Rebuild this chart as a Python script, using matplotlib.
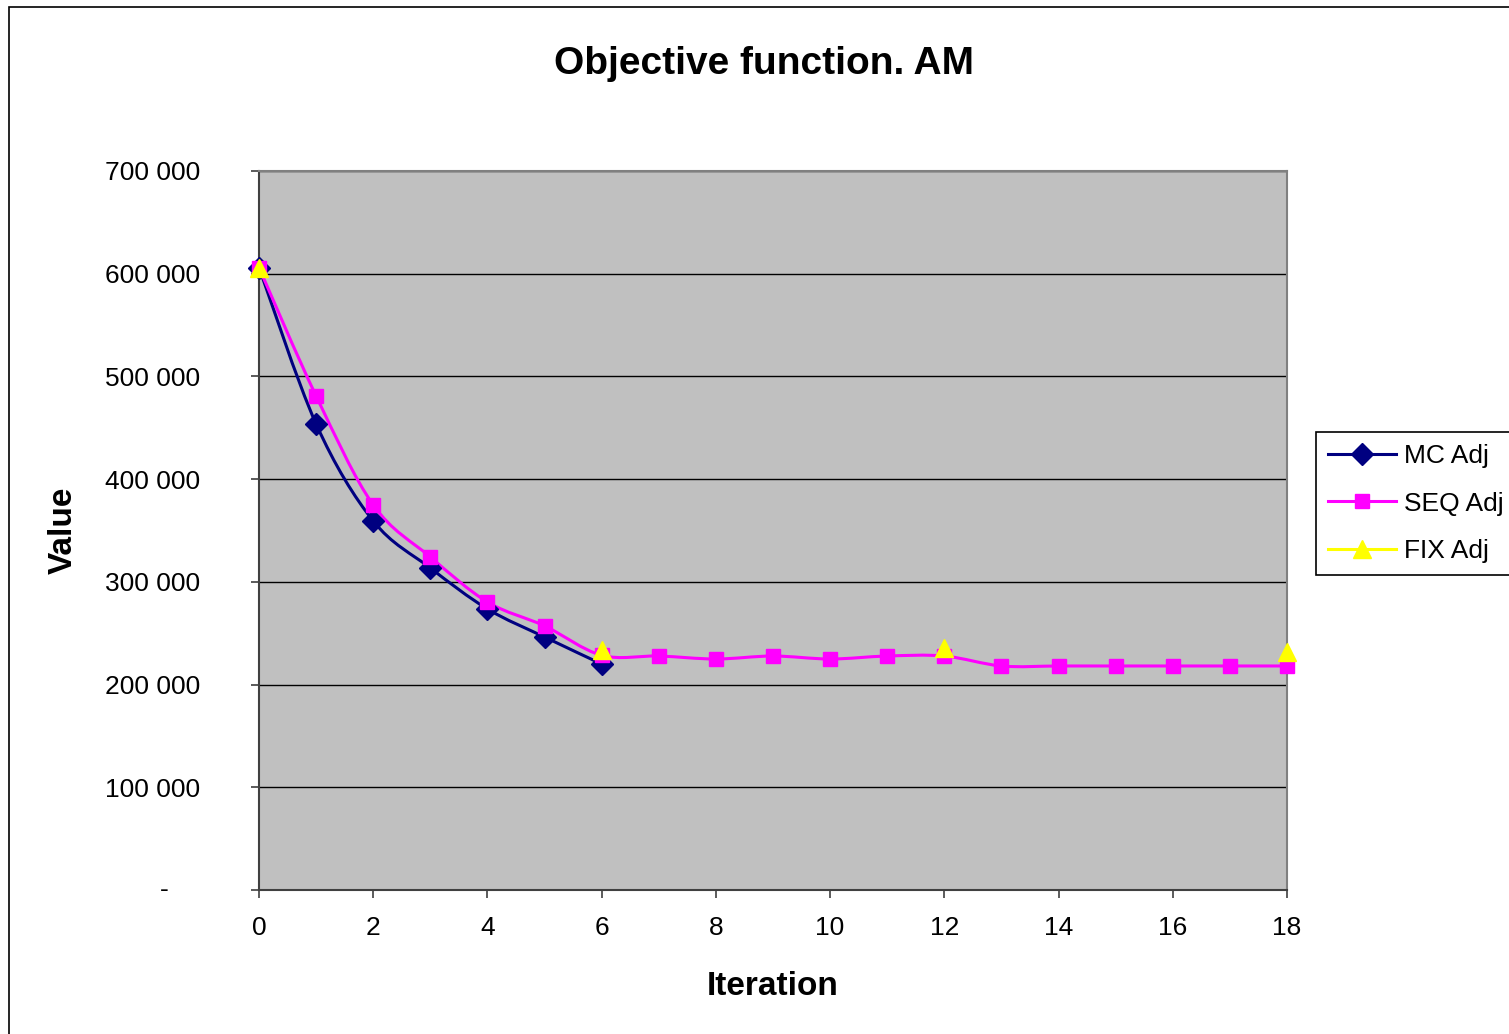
import numpy as np
import matplotlib
matplotlib.use("Agg")
from matplotlib import pyplot as plt
from matplotlib.path import Path
from matplotlib.patches import PathPatch, Rectangle
from matplotlib.lines import Line2D
from matplotlib.ticker import FuncFormatter, MultipleLocator

plt.rcParams["font.family"] = ["Liberation Sans", "DejaVu Sans"]

iterations = list(range(19))
mc_iter = [0, 1, 2, 3, 4, 5, 6]
mc_adj = [606000, 453700, 359300, 313500, 273600, 246300, 220000]
seq_adj = [606000, 481000, 374900, 324200, 280400, 257100, 228500, 227800, 224900,
           227800, 224900, 227800, 227800, 218100, 218100, 218100, 218100, 218100, 218100]
fix_iter = [0, 6, 12, 18]
fix_adj = [606000, 233700, 235600, 231700]

NAVY = "#000080"
MAGENTA = "#FF00FF"
YELLOW = "#FFFF00"


def smooth_path(xs, ys):
    # Catmull-Rom style cubic segments, like a spreadsheet "smoothed line"
    pts = np.column_stack([xs, ys]).astype(float)
    n = len(pts)
    verts = [pts[0]]
    codes = [Path.MOVETO]
    for i in range(n - 1):
        p0 = pts[i - 1] if i > 0 else pts[i]
        p1 = pts[i]
        p2 = pts[i + 1]
        p3 = pts[i + 2] if i + 2 < n else pts[i + 1]
        c1 = p1 + (p2 - p0) / 6.0
        c2 = p2 - (p3 - p1) / 6.0
        verts += [c1, c2, p2]
        codes += [Path.CURVE4] * 3
    return Path(verts, codes)


fig = plt.figure(figsize=(15.09, 10.34), dpi=100)
fig.patches.append(Rectangle((9 / 1509, -0.01), 1.02, 1 - 7 / 1034 + 0.01,
                             transform=fig.transFigure, fill=False,
                             edgecolor="black", linewidth=1.2))

ax = fig.add_axes([259 / 1509, 1 - 890 / 1034, (1287 - 259) / 1509, (890 - 171) / 1034])
ax.set_facecolor("#C0C0C0")

ax.add_patch(PathPatch(smooth_path(mc_iter, mc_adj), fill=False, edgecolor=NAVY, lw=2.2, zorder=3))
ax.add_patch(PathPatch(smooth_path(iterations, seq_adj), fill=False, edgecolor=MAGENTA, lw=2.2, zorder=4))

ax.plot(mc_iter, mc_adj, linestyle="none", marker="D", color=NAVY, markersize=11,
        zorder=5, clip_on=False)
ax.plot(iterations, seq_adj, linestyle="none", marker="s", color=MAGENTA, markersize=10.5,
        zorder=6, clip_on=False)
ax.plot(fix_iter, fix_adj, linestyle="none", marker="^", color=YELLOW, markersize=13,
        zorder=7, clip_on=False)

ax.set_xlim(0, 18)
ax.set_ylim(0, 700000)
ax.xaxis.set_major_locator(MultipleLocator(2))
ax.yaxis.set_major_locator(MultipleLocator(100000))
# accounting-style labels: zero is shown as a dash, set further in
ax.yaxis.set_major_formatter(FuncFormatter(
    lambda v, _: "" if v == 0 else f"{int(v):,}".replace(",", " ")))
ax.text(-0.088, 0, "-", transform=ax.get_yaxis_transform(), ha="right",
        va="center", fontsize=19)
ax.grid(axis="y", color="black", linewidth=1.0)
ax.set_axisbelow(True)
ax.tick_params(direction="out", length=6, width=1.2, color="#404040",
               labelsize=19, pad=13)
ax.tick_params(axis="y", pad=36.5)
for side in ("left", "bottom"):
    ax.spines[side].set_color("#404040")
    ax.spines[side].set_linewidth(1.5)
for side in ("top", "right"):
    ax.spines[side].set_color("#808080")
    ax.spines[side].set_linewidth(1.5)

ax.set_xlabel("Iteration", fontsize=24, fontweight="bold", labelpad=22)
ax.set_ylabel("Value", fontsize=24, fontweight="bold", labelpad=19)
fig.text(764 / 1509, 1 - 64 / 1034, "Objective function. AM", fontsize=28,
         fontweight="bold", ha="center", va="center")

handles = [
    Line2D([], [], color=NAVY, lw=2.2, marker="D", markersize=11),
    Line2D([], [], color=MAGENTA, lw=2.2, marker="s", markersize=10.5),
    Line2D([], [], color=YELLOW, lw=2.2, marker="^", markersize=13),
]
leg = fig.legend(handles, ["MC Adj", "SEQ Adj", "FIX Adj"], loc="upper left",
                 bbox_to_anchor=(1316 / 1509, 1 - 432 / 1034), fontsize=19,
                 frameon=True, fancybox=False, edgecolor="black", framealpha=1,
                 handlelength=2.6, handletextpad=0.3, labelspacing=0.9,
                 borderpad=0.45, borderaxespad=0)
leg.get_frame().set_linewidth(1.2)

fig.savefig("out.png", dpi=100)
